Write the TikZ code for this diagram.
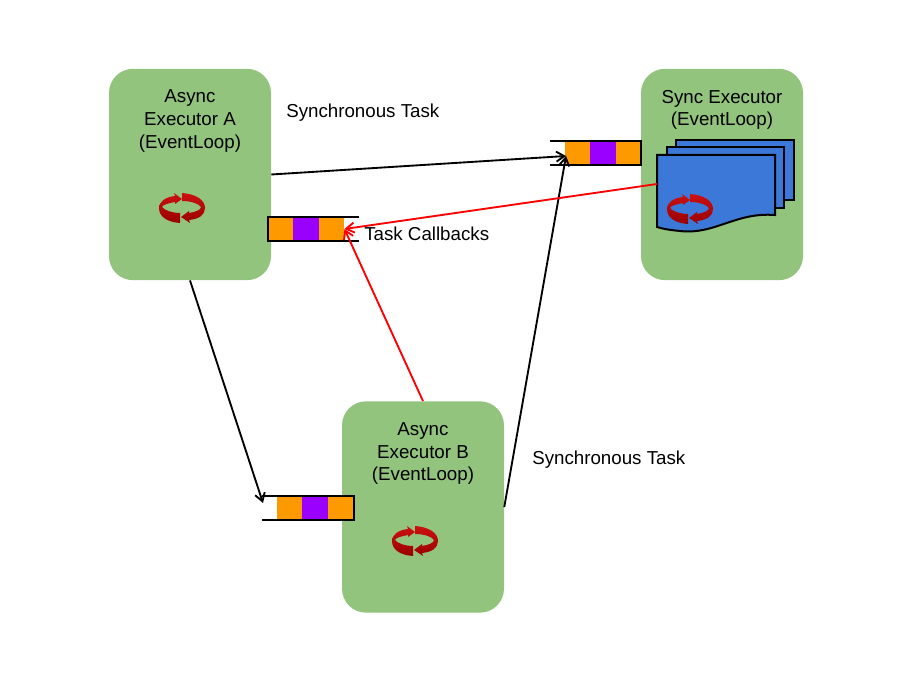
\documentclass[tikz,border=0pt]{standalone}
\usepackage{fontspec}
\setmainfont{Liberation Sans}
\usepackage{tikz}
\usetikzlibrary{arrows.meta,shapes,positioning}
\usepackage{xcolor}
\definecolor{exgreen}{HTML}{93C47D}
\definecolor{qorange}{HTML}{FF9900}
\definecolor{qpurple}{HTML}{9900FF}
\definecolor{docblue}{HTML}{3C78D8}
\definecolor{cyclelight}{HTML}{CC1111}
\definecolor{cycledark}{HTML}{990000}
\tikzstyle{executor} = [rectangle, rounded corners=18pt, minimum width=121.5pt, minimum height=158.5pt, fill=exgreen]
\tikzstyle{caption} = [align=center, inner sep=0pt, font=\fontsize{14.05}{17}\selectfont]
\tikzstyle{cell} = [rectangle, inner sep=0pt, minimum width=18.95pt, minimum height=18pt]
\tikzstyle{rail} = [line width=1.5pt, color=black]
\tikzstyle{page} = [line width=1.5pt, draw=black, fill=docblue]
\tikzstyle{blackarrow} = [line width=1.4pt, -{Straight Barb[length=6pt,width=7.5pt]}, color=black]
\tikzstyle{redarrow} = [line width=1.4pt, -{Straight Barb[length=6pt,width=7.5pt]}, color=red]
\tikzset{cycleicon/.pic={
  \path[top color=cyclelight, bottom color=cycledark]
    (-2,15) .. controls (-16,14) and (-23,8) .. (-23,0) .. controls (-23,-6) and (-17,-11) .. (-7,-12)
    -- (-8,-15) -- (0,-9) -- (-7,-4)
    -- (-7,-6) .. controls (-13,-5) and (-20,-3) .. (-20,-1) .. controls (-18,2) and (-10,5) .. (-2,5) -- cycle;
  \path[top color=cyclelight, bottom color=cycledark]
    (0,-15) .. controls (14,-14) and (23,-8) .. (23,0) .. controls (23,7) and (17,11) .. (7,12)
    -- (8,15) -- (-1,9) -- (7,3)
    -- (7,5) .. controls (13,4) and (19,2) .. (19,-1) .. controls (17,-4) and (10,-7) .. (0,-7) -- cycle;
}}

\begin{document}
\begin{tikzpicture}[x=0.75pt, y=-0.75pt]
\useasboundingbox (0,0) rectangle (920,691);

% Executors
\node (execA) [executor] at (190,174.5) {};
\node (execSync) [executor] at (722,174.5) {};
\node (execB) [executor] at (423,507) {};

% Executor labels
\node (labelA) [caption] at (190,121) {Async\\Executor A\\(EventLoop)};
\node (labelSync) [caption] at (722,110) {Sync Executor\\(EventLoop)};
\node (labelB) [caption] at (423,453.5) {Async\\Executor B\\(EventLoop)};

% Pages of the sync executor
\draw[page] (676,140) -- (794,140) -- (794,200) -- (676,200) -- cycle;
\draw[page] (667,147) -- (784,147) -- (784,208) -- (667,208) -- cycle;
\draw[page] (657,155) -- (775,155) -- (775,215) .. controls (735,212) and (715,235) .. (680,231) .. controls (670,230) and (663,229) .. (657,227) -- cycle;
\coordinate (pageFront) at (657,184);

% Event loop icons
\pic at (182,208) {cycleicon};
\pic at (690,209) {cycleicon};
\pic at (415,541) {cycleicon};

% Queue of the sync executor
\node (syncQ1) [cell, fill=qorange] at (577.5,153) {};
\node (syncQ2) [cell, fill=qpurple, right=-0.2pt of syncQ1] {};
\node (syncQ3) [cell, fill=qorange, right=-0.2pt of syncQ2] {};
\draw[rail] (550,141) -- (641,141) -- (641,165) -- (550,165);

% Queue of executor A
\node (queueA1) [cell, fill=qorange] at (280.5,229) {};
\node (queueA2) [cell, fill=qpurple, right=-0.2pt of queueA1] {};
\node (queueA3) [cell, fill=qorange, right=-0.2pt of queueA2] {};
\draw[rail] (359,217) -- (267.5,217) -- (267.5,241) -- (359,241);

% Queue of executor B
\node (queueB1) [cell, fill=qorange] at (289.5,508) {};
\node (queueB2) [cell, fill=qpurple, right=-0.2pt of queueB1] {};
\node (queueB3) [cell, fill=qorange, right=-0.2pt of queueB2] {};
\draw[rail] (262,496) -- (354,496) -- (354,520) -- (262,520);
\coordinate (queueBend) at (263,503);
\coordinate (syncEnd) at (566,156);

% Arrows
\draw[blackarrow] (execA.east) -- (syncEnd);
\draw[blackarrow] (execB.east) -- (syncEnd);
\draw[blackarrow] (execA.south) -- (queueBend);
\draw[redarrow] (pageFront) -- (queueA3.east);
\draw[redarrow] (execB.north) -- (queueA3.east);

% Labels
\node (syncTaskA) [caption, anchor=west] at (286,113) {Synchronous Task};
\node (syncTaskB) [caption, anchor=west] at (532,460) {Synchronous Task};
\node (callbacks) [caption, anchor=west] at (364,234) {Task Callbacks};
\end{tikzpicture}
\end{document}
